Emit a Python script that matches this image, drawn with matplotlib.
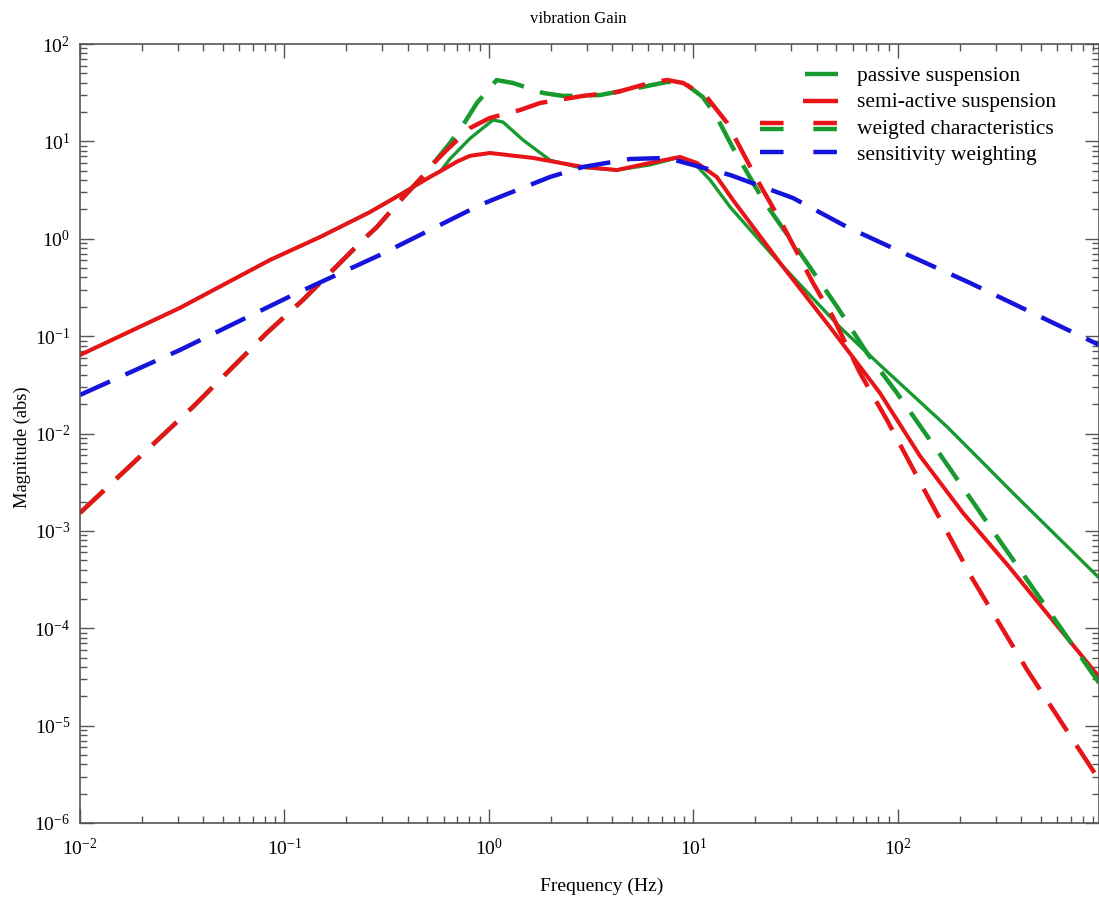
import matplotlib
matplotlib.use('Agg')
import matplotlib.pyplot as plt
from matplotlib.lines import Line2D
from matplotlib.legend_handler import HandlerBase
from matplotlib.ticker import LogLocator, NullFormatter, FixedLocator

plt.rcParams['font.family'] = ['Liberation Serif', 'DejaVu Serif']
plt.rcParams['mathtext.fontset'] = 'stix'

# ---------------- data ----------------
passive_f = [0.01, 0.0308, 0.0849, 0.149, 0.262, 0.380, 0.514, 0.58, 0.644, 0.807, 1.046, 1.17,
             1.47, 1.99, 2.69, 4.23, 6.12, 8.30, 9.95, 12.05, 15.1, 25.6, 52.0, 81.6, 174,
             282, 365, 962]
passive_m = [0.064, 0.195, 0.605, 1.04, 1.88, 2.95, 4.31, 4.95, 6.6, 10.7, 16.6, 15.8,
             10.3, 6.4, 5.46, 5.08, 5.73, 6.76, 6.15, 4.02, 2.12, 0.605, 0.124, 0.0506, 0.0117,
             0.00423, 2.45e-3, 3.3e-4]

semi_f = [0.01, 0.0308, 0.0849, 0.149, 0.262, 0.380, 0.514, 0.58, 0.698, 0.807, 1.01, 1.64,
          2.88, 4.23, 6.12, 8.59, 10.4, 13.0, 15.6, 26.5, 46.5, 81.6, 128, 208, 353, 553, 962]
semi_m = [0.064, 0.195, 0.605, 1.04, 1.88, 2.95, 4.31, 4.95, 6.2, 7.1, 7.60, 6.76,
          5.46, 5.08, 6.0, 6.92, 6.0, 4.31, 2.50, 0.565, 0.124, 0.0261, 0.0059, 1.53e-3,
          4.17e-4, 1.31e-4, 3.17e-5]

pw_f = [0.01, 0.0357, 0.082, 0.123, 0.187, 0.242, 0.283, 0.367, 0.486, 0.644, 0.763, 0.873,
        1.09, 1.31, 1.84, 2.30, 3.49, 5.30, 7.42, 8.89, 11.1, 13.0, 15.6, 21.9, 35.9, 50.4,
        70.5, 98.8, 155, 305, 600, 962]
pw_m = [1.53e-3, 0.0188, 0.108, 0.235, 0.566, 0.973, 1.32, 2.45, 4.63, 9.6, 15.8, 24.8,
        42.6, 39.8, 31.4, 29.3, 29.9, 35.3, 40.7, 40.7, 28.6, 17.8, 8.55, 2.50, 0.565, 0.200,
        0.0673, 0.0261, 6.8e-3, 8.7e-4, 1.14e-4, 2.75e-5]

sw_f = [0.01, 0.0357, 0.082, 0.123, 0.187, 0.242, 0.283, 0.367, 0.486, 0.544, 0.623, 0.807,
        1.01, 1.42, 1.78, 2.88, 4.23, 6.12, 7.42, 8.89, 11.6, 14.6, 20.5, 26.5, 38.4, 48.1,
        65.2, 88.3, 132, 233, 428, 962]
sw_m = [1.53e-3, 0.0188, 0.108, 0.235, 0.566, 0.973, 1.32, 2.45, 4.63, 6.15, 8.2, 13.7,
        17.4, 21.0, 24.8, 29.3, 32.1, 39.8, 42.7, 39.8, 28.6, 15.5, 4.02, 1.56, 0.352, 0.157,
        0.0419, 0.0138, 2.83e-3, 3.14e-4, 3.74e-5, 2.78e-6]

blue_f = [0.01, 0.0308, 0.110, 0.293, 0.904, 1.13, 1.99, 2.88, 4.89, 7.42, 10.8, 15.1,
          30.7, 56.4, 98.8, 225, 962]
blue_m = [0.0249, 0.072, 0.265, 0.682, 2.22, 2.69, 4.31, 5.46, 6.59, 6.76, 5.46, 4.52,
          2.62, 1.32, 0.767, 0.352, 0.0813]

xticks = [1e-2, 1e-1, 1e0, 1e1, 1e2]
yticks = [1e-6, 1e-5, 1e-4, 1e-3, 1e-2, 1e-1, 1e0, 1e1, 1e2]

labels = ['passive suspension', 'semi-active suspension',
          'weigted characteristics', 'sensitivity weighting']
title = 'vibration Gain'
xlabel = 'Frequency (Hz)'
ylabel = 'Magnitude (abs)'

GREEN = '#179a2e'
RED = '#e81418'
BLUE = '#1414dc'

# ---------------- figure ----------------
fig = plt.figure(figsize=(10.99, 8.98), dpi=100)
ax = fig.add_axes([80/1099, 1-823/898, 1-80/1099, (823-44)/898])

DLW = 3.2
DASH = (7.4, 3.8)
ax.plot(passive_f, passive_m, color=GREEN, lw=2.4, solid_joinstyle='round')
ax.plot(semi_f, semi_m, color=RED, lw=2.9, solid_joinstyle='round')
ax.plot(pw_f, pw_m, color=GREEN, lw=DLW, linestyle=(0, DASH), dash_capstyle='butt')
ax.plot(sw_f, sw_m, color=RED, lw=DLW, linestyle=(0, DASH), dash_capstyle='butt')
ax.plot(blue_f, blue_m, color=BLUE, lw=DLW, linestyle=(0, DASH), dash_capstyle='butt')

ax.set_xscale('log')
ax.set_yscale('log')
ax.set_xlim(0.01, 962)
ax.set_ylim(1e-6, 1e2)

ax.xaxis.set_major_locator(FixedLocator(xticks))
ax.yaxis.set_major_locator(FixedLocator(yticks))
ax.xaxis.set_minor_locator(LogLocator(base=10, subs=range(2, 10), numticks=50))
ax.yaxis.set_minor_locator(LogLocator(base=10, subs=range(2, 10), numticks=50))
ax.xaxis.set_minor_formatter(NullFormatter())
ax.yaxis.set_minor_formatter(NullFormatter())

ax.tick_params(which='both', direction='in', top=True, right=True,
               color='#555555', width=1.0, labelsize=14)
ax.tick_params(which='major', length=10)
ax.tick_params(which='minor', length=5)
ax.tick_params(axis='x', which='major', pad=11)
ax.tick_params(axis='y', which='major', pad=7)
for s in ax.spines.values():
    s.set_color('#555555')
    s.set_linewidth(1.2)

ax.set_title(title, fontsize=12.0, pad=15, x=0.489)
ax.set_xlabel(xlabel, fontsize=14, labelpad=13, x=0.512)
ax.set_ylabel(ylabel, fontsize=13.3, labelpad=2.5, y=0.483)


class SegHandler(HandlerBase):
    def __init__(self, segs):
        super().__init__()
        self.segs = segs

    def create_artists(self, legend, orig_handle, xdescent, ydescent, width,
                       height, fontsize, trans):
        arts = []
        for color, lw, ls, x0, dy in self.segs:
            y = height / 2 - ydescent + dy * fontsize
            xa = -xdescent + x0 * width
            xb = -xdescent + width
            ln = Line2D([xa, xb], [y, y], color=color, lw=lw, linestyle=ls,
                        solid_capstyle='butt', dash_capstyle='butt')
            ln.set_transform(trans)
            arts.append(ln)
        return arts


LEG_DASH = (0, (5.3, 6.7))
h1 = Line2D([], [], color=GREEN)
h2 = Line2D([], [], color=RED)
h3 = Line2D([], [], color=RED)
h4 = Line2D([], [], color=BLUE)
hmap = {
    h1: SegHandler([(GREEN, DLW, '-', 0.58, 0.0)]),
    h2: SegHandler([(RED, DLW, '-', 0.56, -0.05)]),
    h3: SegHandler([(RED, DLW, LEG_DASH, 0.0, 0.17), (GREEN, DLW, LEG_DASH, 0.0, -0.14)]),
    h4: SegHandler([(BLUE, DLW, LEG_DASH, 0.0, 0.0)]),
}
leg = ax.legend([h1, h2, h3, h4], labels, handler_map=hmap, frameon=False,
                loc='upper left', bbox_to_anchor=(760/1099, 1-66/898),
                bbox_transform=fig.transFigure, fontsize=15.5, handlelength=3.6,
                handletextpad=0.9, labelspacing=0.29, borderpad=0, borderaxespad=0)

fig.savefig('out.png', dpi=100)
